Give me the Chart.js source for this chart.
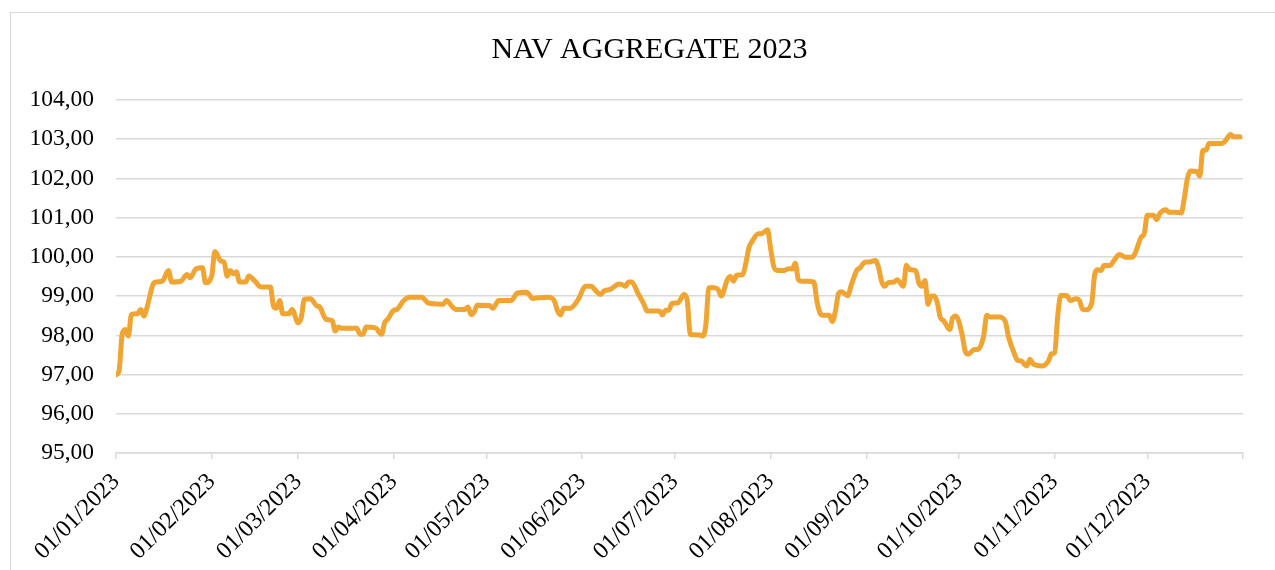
<!DOCTYPE html>
<html>
<head>
<meta charset="utf-8">
<title>NAV AGGREGATE 2023</title>
<script src="https://cdn.jsdelivr.net/npm/chart.js@4.4.1/dist/chart.umd.min.js"></script>
<style>
    html, body { margin: 0; padding: 0; background: #fff; }
    #frame {
        position: absolute; left: 10px; top: 12px;
        width: 1300px; height: 600px;
        border: 1px solid #d9d9d9;
    }
    #navChart { position: absolute; left: 0; top: 0; }
</style>
</head>
<body>
<div id="frame"></div>
<canvas id="navChart" width="1275" height="570"></canvas>
<script>
// days since 01/01/2023
const days = [
    0, 1, 2, 3, 4, 5, 7, 8, 9, 10, 12, 13, 15, 17, 18, 21, 23, 24, 26, 28, 29,
    31, 32, 34, 35, 36, 37, 38, 39, 40, 42, 43, 45, 47, 50, 51, 52, 53, 54, 56, 57,
    59, 60, 61, 63, 65, 66, 68, 70, 71, 72, 73, 78, 79, 80, 81, 84, 86, 87, 88,
    90, 91, 93, 95, 99, 101, 102, 106, 107, 109, 110, 113, 114, 115, 116, 117,
    121, 122, 124, 128, 130, 133, 135, 137, 140, 142, 143, 144, 145, 147, 149, 150,
    152, 154, 155, 157, 158, 160, 163, 164, 165, 166, 167, 169, 171, 172, 176, 177, 178, 179,
    180, 182, 184, 185, 186, 189, 190, 191, 192, 193, 195, 196, 198, 199, 200, 201, 203, 204,
    205, 206, 208, 209, 211, 212, 213, 214, 216, 218, 219, 220, 221, 222, 224, 226, 227,
    228, 229, 231, 232, 233, 234, 235, 237, 238, 240, 241, 242, 243, 244, 246, 247, 248,
    249, 250, 252, 253, 255, 256, 257, 259, 260, 261, 262, 263, 264, 265, 266, 267, 268,
    270, 271, 272, 274, 275, 276, 278, 279, 281, 282, 283, 286, 288, 289, 291, 292, 293,
    295, 296, 297, 298, 300, 302, 303, 304, 305, 306, 308, 309, 311, 312, 313, 314, 316,
    317, 318, 319, 320, 322, 323, 325, 327, 329, 330, 332, 333, 334, 336, 337, 338, 340,
    341, 343, 345, 346, 347, 348, 350, 351, 352, 353, 354, 358, 359, 361, 362, 364
];

const nav = [
    96.99, 97.10, 98.03, 98.15, 97.98, 98.53, 98.55, 98.66, 98.49, 98.70, 99.30, 99.36, 99.38, 99.65, 99.36, 99.38, 99.55, 99.47, 99.70, 99.72, 99.34,
    99.51, 100.14, 99.89, 99.87, 99.51, 99.65, 99.57, 99.62, 99.36, 99.36, 99.51, 99.38, 99.23, 99.23, 98.75, 98.69, 98.89, 98.55, 98.55, 98.66,
    98.32, 98.45, 98.92, 98.93, 98.75, 98.72, 98.41, 98.38, 98.11, 98.21, 98.18, 98.18, 98.03, 98.03, 98.21, 98.19, 98.03, 98.32, 98.41,
    98.64, 98.66, 98.87, 98.97, 98.97, 98.83, 98.81, 98.79, 98.89, 98.72, 98.66, 98.66, 98.72, 98.53, 98.60, 98.77,
    98.76, 98.69, 98.89, 98.89, 99.08, 99.10, 98.94, 98.96, 98.97, 98.87, 98.62, 98.52, 98.69, 98.69, 98.83, 98.96,
    99.25, 99.25, 99.17, 99.04, 99.13, 99.17, 99.31, 99.29, 99.25, 99.36, 99.36, 99.08, 98.79, 98.62, 98.62, 98.52, 98.64, 98.64,
    98.81, 98.83, 99.04, 98.89, 98.02, 98.01, 97.98, 98.24, 99.21, 99.22, 99.17, 99.00, 99.42, 99.50, 99.38, 99.53, 99.55, 99.84,
    100.24, 100.39, 100.59, 100.59, 100.69, 100.22, 99.76, 99.66, 99.65, 99.70, 99.69, 99.84, 99.42, 99.38, 99.38, 99.36, 98.87,
    98.57, 98.51, 98.51, 98.35, 98.62, 99.06, 99.11, 99.01, 99.25, 99.67, 99.72, 99.83, 99.87, 99.87, 99.91, 99.72, 99.36,
    99.25, 99.34, 99.36, 99.42, 99.25, 99.79, 99.68, 99.65, 99.34, 99.25, 99.40, 98.79, 99.00, 99.00, 98.83, 98.45, 98.38,
    98.15, 98.45, 98.49, 98.03, 97.60, 97.52, 97.64, 97.64, 97.98, 98.51, 98.47, 98.47, 98.36, 97.98, 97.52, 97.36, 97.35,
    97.22, 97.39, 97.28, 97.24, 97.22, 97.35, 97.53, 97.56, 98.50, 99.02, 99.01, 98.89, 98.93, 98.89, 98.67, 98.65, 98.82,
    99.57, 99.67, 99.65, 99.78, 99.78, 99.88, 100.06, 99.99, 99.99, 100.08, 100.50, 100.59, 101.06, 101.06, 100.95, 101.10, 101.20,
    101.14, 101.14, 101.12, 101.50, 102.00, 102.19, 102.18, 102.06, 102.72, 102.72, 102.89, 102.89, 102.93, 103.12, 103.06, 103.06
];

// month starts (days since 01/01/2023), last one is 01/01/2024 with no label
const tickDays = [0, 31, 59, 90, 120, 151, 181, 212, 243, 273, 304, 334, 365];
const tickLabels = [
    '01/01/2023', '01/02/2023', '01/03/2023', '01/04/2023', '01/05/2023', '01/06/2023',
    '01/07/2023', '01/08/2023', '01/09/2023', '01/10/2023', '01/11/2023', '01/12/2023', ''
];

const fontFamily = "'Liberation Serif', 'Times New Roman', serif";
const gridColor = '#d9d9d9';

// the original title sits a bit right of the plot centre
const shiftTitle = {
    id: 'shiftTitle',
    afterLayout: function(chart) {
        if (chart.titleBlock) {
            chart.titleBlock.left += 28;
            chart.titleBlock.right += 28;
        }
    }
};

const data = {
    datasets: [{
        label: 'NAV',
        data: days.map((d, i) => ({ x: d, y: nav[i] })),
        borderColor: '#F0A431',
        backgroundColor: '#F0A431',
        borderWidth: 5,
        pointRadius: 0,
        borderJoinStyle: 'round',
        borderCapStyle: 'round',
        cubicInterpolationMode: 'monotone',
        tension: 0.3
    }]
};

const config = {
    type: 'line',
    data: data,
    plugins: [shiftTitle],
    options: {
        responsive: false,
        animation: false,
        layout: { padding: { left: 0, right: 32, top: 0, bottom: 0 } },
        plugins: {
            legend: { display: false },
            tooltip: { enabled: false },
            title: {
                display: true,
                text: 'NAV AGGREGATE 2023',
                color: '#000',
                font: { family: fontFamily, size: 30, weight: 'normal', lineHeight: 1.2 },
                padding: { top: 32, bottom: 32 }
            }
        },
        scales: {
            x: {
                type: 'linear',
                min: 0,
                max: 365,
                afterBuildTicks: function(scale) {
                    scale.ticks = tickDays.map(v => ({ value: v }));
                },
                afterFit: function(scale) {
                    scale.height = 117;
                },
                grid: {
                    drawOnChartArea: false,
                    drawTicks: true,
                    tickLength: 6,
                    color: gridColor,
                    lineWidth: 1.5
                },
                border: { display: true, color: gridColor, width: 1.5 },
                ticks: {
                    autoSkip: false,
                    maxRotation: 45,
                    minRotation: 45,
                    padding: 9,
                    color: '#000',
                    font: { family: fontFamily, size: 24 },
                    callback: function(value, index) {
                        return tickLabels[index];
                    }
                }
            },
            y: {
                min: 95,
                max: 104,
                afterFit: function(scale) {
                    scale.width = 116;
                },
                grid: {
                    drawTicks: false,
                    color: gridColor,
                    lineWidth: 1.5
                },
                border: { display: false },
                ticks: {
                    stepSize: 1,
                    padding: 22,
                    color: '#000',
                    font: { family: fontFamily, size: 23.5 },
                    callback: function(value) {
                        return value.toFixed(2).replace('.', ',');
                    }
                }
            }
        }
    }
};

const navChart = new Chart(
    document.getElementById('navChart'),
    config
);
</script>
</body>
</html>
